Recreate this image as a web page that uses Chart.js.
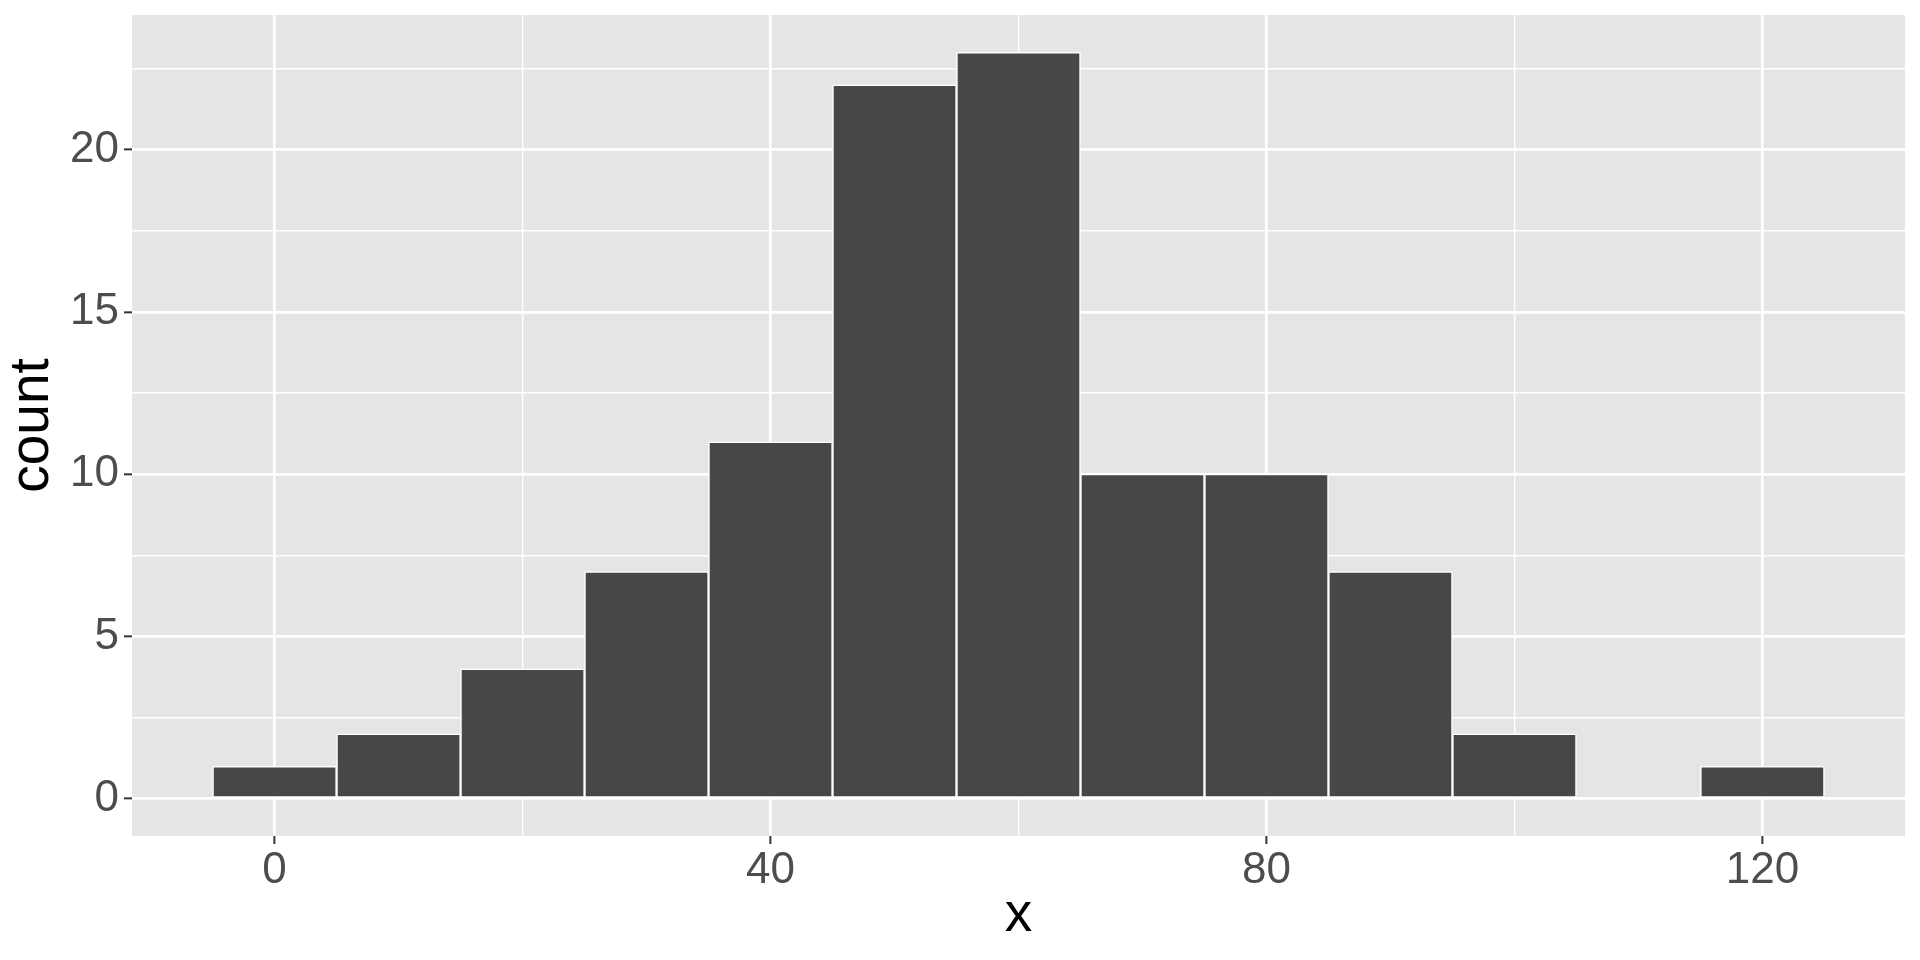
<!DOCTYPE html>
<html>
<head>
<meta charset="utf-8">
<script src="https://cdn.jsdelivr.net/npm/chart.js@4/dist/chart.umd.min.js"></script>
<style>
  html, body { margin: 0; padding: 0; background: #fff; }
  canvas { display: block; }
</style>
</head>
<body>
<canvas id="hist" width="1920" height="960"></canvas>
<script>
// histogram bins (centre of each 10-wide bin) and counts
const binCenters = [0, 10, 20, 30, 40, 50, 60, 70, 80, 90, 100, 110, 120];
const counts     = [1, 2, 4, 7, 11, 22, 23, 10, 10, 7, 2, 0, 1];

// major + minor gridline positions, labels only on the majors
const xTicks      = [0, 20, 40, 60, 80, 100, 120];
const xMajor      = [0, 40, 80, 120];
const yTicks      = [0, 2.5, 5, 7.5, 10, 12.5, 15, 17.5, 20, 22.5];
const yMajor      = [0, 5, 10, 15, 20];

const FONT = '"Liberation Sans", Arial, sans-serif';

const panelBg = {
  id: 'panelBg',
  beforeDraw(chart) {
    const { ctx, chartArea: a } = chart;
    ctx.save();
    ctx.fillStyle = '#E5E5E5';
    ctx.fillRect(a.left, a.top, a.right - a.left, a.bottom - a.top);
    ctx.restore();
  }
};

const gridFor = (major) => ({
  color: '#FFFFFF',
  lineWidth: (c) => major.includes(c.tick.value) ? 2.7 : 1.4,
  drawTicks: true,
  tickLength: 8,
  tickWidth: 2,
  tickColor: (c) => major.includes(c.tick.value) ? '#333333' : 'rgba(0,0,0,0)',
});

new Chart(document.getElementById('hist'), {
  type: 'bar',
  data: {
    datasets: [{
      data: binCenters.map((x, i) => ({ x, y: counts[i] })),
      backgroundColor: '#474747',
      borderColor: '#FFFFFF',
      borderWidth: 1.5,
      borderSkipped: false,
      barPercentage: 1,
      categoryPercentage: 1,
    }],
  },
  options: {
    responsive: false,
    animation: false,
    events: [],
    layout: { padding: { top: 15, right: 15, left: 0, bottom: 0 } },
    plugins: {
      legend: { display: false },
      tooltip: { enabled: false },
    },
    scales: {
      x: {
        type: 'linear',
        offset: false,
        min: -11.5,
        max: 131.5,
        afterBuildTicks: (axis) => { axis.ticks = xTicks.map(v => ({ value: v })); },
        afterFit: (axis) => {
          axis.height = 124;
          axis.paddingLeft = 0;
          axis.paddingRight = 0;
        },
        grid: { ...gridFor(xMajor), offset: false },
        border: { display: false },
        ticks: {
          autoSkip: false,
          maxRotation: 0,
          padding: 0,
          color: '#4D4D4D',
          font: { family: FONT, size: 44 },
          callback: (v) => xMajor.includes(v) ? String(v) : '',
        },
        title: {
          display: true,
          text: 'x',
          color: '#000000',
          font: { family: FONT, size: 55 },
          padding: { top: 0, bottom: 11 },
        },
      },
      y: {
        min: -1.15,
        max: 24.15,
        afterBuildTicks: (axis) => { axis.ticks = yTicks.map(v => ({ value: v })); },
        afterFit: (axis) => {
          axis.width = 132;
          axis.paddingTop = 0;
          axis.paddingBottom = 0;
        },
        grid: gridFor(yMajor),
        border: { display: false },
        ticks: {
          autoSkip: false,
          padding: 5,
          color: '#4D4D4D',
          font: { family: FONT, size: 44 },
          callback: (v) => yMajor.includes(v) ? String(v) : '',
        },
        title: {
          display: true,
          text: 'count',
          color: '#000000',
          font: { family: FONT, size: 55 },
          padding: { top: 0, bottom: 0 },
        },
      },
    },
  },
  plugins: [panelBg],
});
</script>
</body>
</html>
